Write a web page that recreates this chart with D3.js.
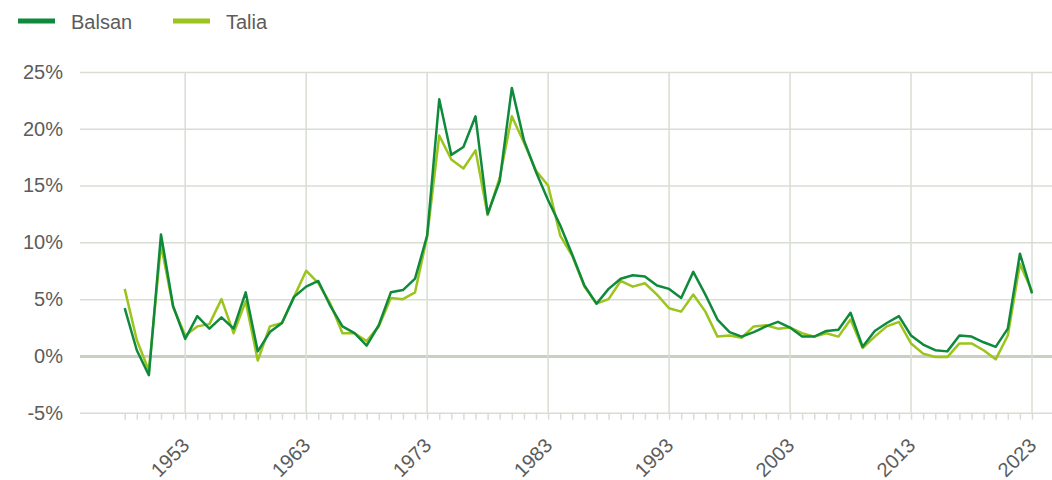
<!DOCTYPE html>
<html>
<head>
<meta charset="utf-8">
<script src="https://cdn.jsdelivr.net/npm/d3@7"></script>
<style>
  body { margin: 0; background: #fff; }
  svg { display: block; font-family: "Liberation Sans", Arial, sans-serif; }
</style>
</head>
<body>
<svg width="1052" height="480"></svg>
<script>
const width = 1052;
const height = 480;

const years = d3.range(1948, 2024);
const balsan = [
  4.2, 0.5, -1.7, 10.7, 4.4, 1.5, 3.5, 2.4, 3.4, 2.4,
  5.6, 0.4, 2.1, 2.9, 5.2, 6.1, 6.6, 4.4, 2.6, 2.0,
  0.9, 2.7, 5.6, 5.8, 6.8, 10.6, 22.6, 17.7, 18.4, 21.1,
  12.5, 15.4, 23.6, 19.0, 16.2, 13.7, 11.5, 8.9, 6.2, 4.6,
  5.9, 6.8, 7.1, 7.0, 6.2, 5.9, 5.1, 7.4, 5.4, 3.2,
  2.1, 1.7, 2.1, 2.6, 3.0, 2.5, 1.7, 1.7, 2.2, 2.3,
  3.8, 0.8, 2.2, 2.9, 3.5, 1.8, 1.0, 0.5, 0.4, 1.8,
  1.7, 1.2, 0.8, 2.4, 9.0, 5.5
];
const talia = [
  5.9, 1.4, -1.3, 9.8, 4.3, 1.8, 2.6, 2.8, 5.0, 2.0,
  4.8, -0.4, 2.6, 2.9, 5.2, 7.5, 6.4, 4.6, 2.0, 2.0,
  1.3, 2.6, 5.1, 5.0, 5.6, 10.5, 19.4, 17.3, 16.5, 18.1,
  12.4, 15.7, 21.1, 18.8, 16.3, 15.0, 10.6, 8.8, 6.1, 4.6,
  5.0, 6.6, 6.1, 6.4, 5.4, 4.2, 3.9, 5.4, 3.9, 1.7,
  1.8, 1.6, 2.6, 2.7, 2.4, 2.5, 2.0, 1.7, 2.0, 1.7,
  3.2, 0.7, 1.7, 2.6, 3.0, 1.1, 0.2, -0.1, -0.1, 1.1,
  1.1, 0.5, -0.3, 1.8, 8.1, 5.7
];
const series = [
  { name: "Balsan", values: balsan, color: "#0f8a3c" },
  { name: "Talia", values: talia, color: "#9cc41c" }
];
const yTicks = [-5, 0, 5, 10, 15, 20, 25];
const labelYears = [1953, 1963, 1973, 1983, 1993, 2003, 2013, 2023];

const gridLeft = 80;
const xScale = d3.scaleLinear().domain([1948, 2023]).range([124.7, 1032]);
const yScale = d3.scaleLinear().domain([-5, 25]).range([412.7, 72]);

const svg = d3.select('svg');
const gridColor = '#d8ded3';
const textColor = '#5c5c5c';

// horizontal grid + y labels
const yAxis = d3.axisLeft(yScale)
    .tickValues(yTicks)
    .tickSize(-(width - gridLeft))
    .tickPadding(17)
    .tickFormat(d => d + '%');

const gy = svg.append('g')
    .attr('transform', 'translate(' + gridLeft + ',0)')
    .call(yAxis);
gy.select('.domain').remove();
gy.selectAll('.tick line')
    .attr('stroke', d => d === 0 ? '#c7d0c1' : gridColor)
    .attr('stroke-width', d => d === 0 ? 3 : 1.5);
gy.selectAll('.tick text')
    .attr('fill', textColor)
    .attr('font-size', '20px');

// vertical grid at labelled years
svg.append('g')
    .selectAll('line')
    .data(labelYears)
    .enter()
    .append('line')
        .attr('x1', d => xScale(d))
        .attr('x2', d => xScale(d))
        .attr('y1', yScale(25))
        .attr('y2', yScale(-5))
        .attr('stroke', gridColor)
        .attr('stroke-width', 1.5);

// x axis: one tick per year, labels every ten years
const xAxis = d3.axisBottom(xScale)
    .tickValues(years)
    .tickSize(7)
    .tickFormat(d => labelYears.includes(d) ? d : '');

const gx = svg.append('g')
    .attr('transform', 'translate(0,' + yScale(-5) + ')')
    .call(xAxis);
gx.select('.domain').remove();
gx.selectAll('.tick line')
    .attr('stroke', gridColor)
    .attr('stroke-width', 1.5);
gx.selectAll('.tick text')
    .attr('fill', textColor)
    .attr('font-size', '20px')
    .attr('text-anchor', 'end')
    .attr('dy', 0)
    .attr('y', 0)
    .attr('transform', 'translate(5,34) rotate(-45)');

// lines
const line = d3.line()
    .x((d, i) => xScale(years[i]))
    .y(d => yScale(d));

svg.append('g')
    .selectAll('path')
    .data(series.slice().reverse())
    .enter()
    .append('path')
        .attr('d', d => line(d.values))
        .attr('fill', 'none')
        .attr('stroke', d => d.color)
        .attr('stroke-width', 2.5)
        .attr('stroke-linejoin', 'round');

// legend
const legendX = [18, 173];
const legend = svg.append('g')
    .selectAll('g')
    .data(series)
    .enter()
    .append('g')
        .attr('transform', (d, i) => 'translate(' + legendX[i] + ',21)');

legend.append('line')
    .attr('x1', 0)
    .attr('x2', 37)
    .attr('stroke', d => d.color)
    .attr('stroke-width', 5);

legend.append('text')
    .text(d => d.name)
    .attr('x', 53)
    .attr('y', 8)
    .attr('fill', textColor)
    .attr('font-size', '20px');
</script>
</body>
</html>
